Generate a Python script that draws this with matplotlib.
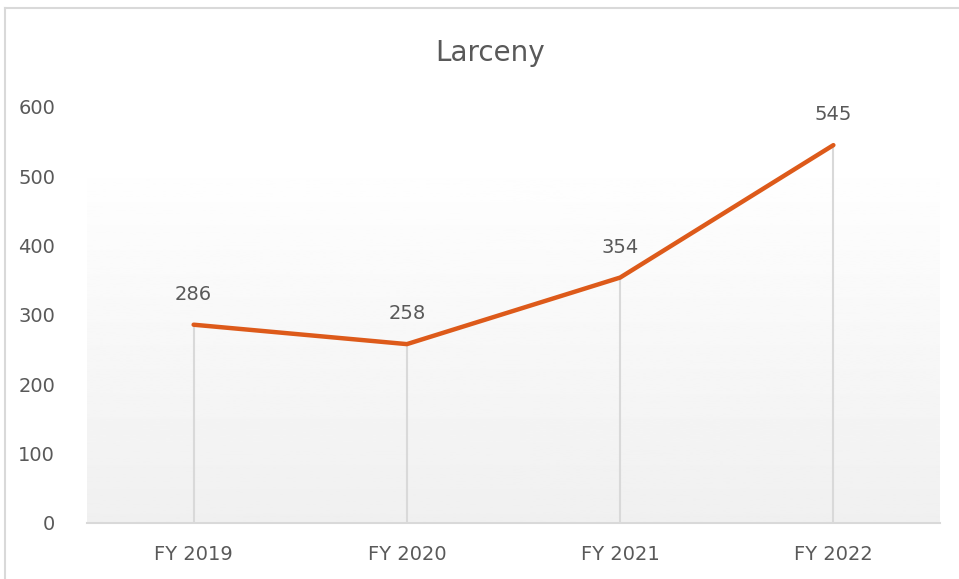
import numpy as np
import matplotlib
matplotlib.use("Agg")
import matplotlib.pyplot as plt
from matplotlib.lines import Line2D

years = ["FY 2019", "FY 2020", "FY 2021", "FY 2022"]
larceny = [286, 258, 354, 545]
yticks = [0, 100, 200, 300, 400, 500, 600]

txt = "#595959"
grid = "#D9D9D9"
orange = "#DD5A1A"

fig = plt.figure(figsize=(9.59, 5.79), dpi=100)
ax = fig.add_axes([87/959, 1 - 523/579, 853/959, 416/579])

x = np.arange(len(years))

# plot area gradient (white at top, light gray at bottom)
grad = np.linspace(0.94, 1.0, 256).reshape(-1, 1)
ax.imshow(grad, extent=(-0.5, 3.5, 0, 531), origin="lower", cmap="gray",
          vmin=0, vmax=1, aspect="auto", zorder=0)

# drop lines
ax.vlines(x, 0, larceny, color=grid, lw=1.5, zorder=1)
ax.plot(x, larceny, color=orange, lw=3.2, solid_capstyle="round", zorder=3)

for xi, v in zip(x, larceny):
    ax.annotate(str(v), (xi, v), xytext=(0, 22), textcoords="offset points",
                ha="center", va="center", fontsize=14, color=txt)

ax.set_xlim(-0.5, 3.5)
ax.set_ylim(0, 600)
ax.set_xticks(x)
ax.set_xticklabels(years)
ax.set_yticks(yticks)
ax.tick_params(length=0, labelsize=14, labelcolor=txt)
ax.tick_params(axis="y", pad=23)
ax.tick_params(axis="x", pad=16)
for s in ["top", "right", "left"]:
    ax.spines[s].set_visible(False)
ax.spines["bottom"].set_color(grid)
ax.spines["bottom"].set_linewidth(1.5)
ax.patch.set_alpha(0)

fig.text(490/959, 1 - 53/579, "Larceny", ha="center", va="center",
         fontsize=20, color=txt)

# chart border
fig.add_artist(Line2D([5/959, 5/959], [0, 1 - 8/579], color=grid, lw=1.5))
fig.add_artist(Line2D([5/959, 1], [1 - 8/579, 1 - 8/579], color=grid, lw=1.5))

fig.savefig("out.png", dpi=100)
